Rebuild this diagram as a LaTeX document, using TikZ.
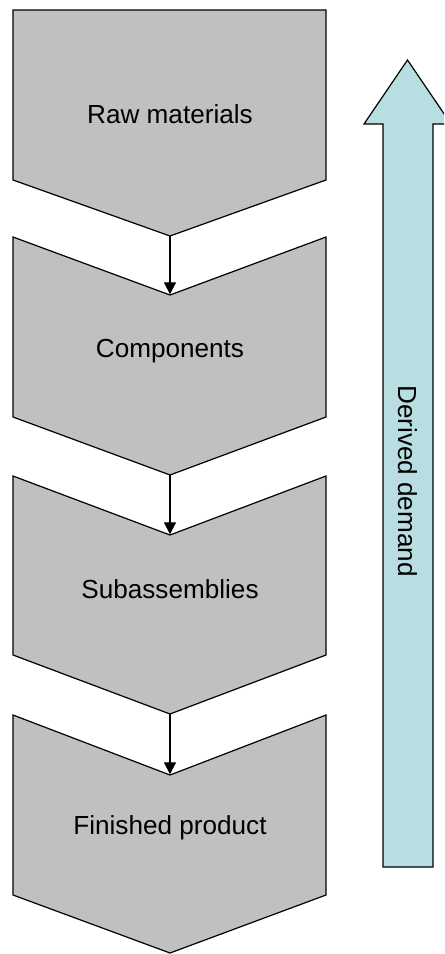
\documentclass[tikz,border=0pt]{standalone}
\usepackage{fontspec}
\setmainfont{Liberation Sans}
\usetikzlibrary{arrows.meta}
\definecolor{stagegray}{RGB}{192,192,192}
\definecolor{demandblue}{RGB}{184,222,225}
\tikzset{
  stage/.style={draw=black, line width=0.9pt, fill=stagegray, line join=miter},
  label/.style={font=\fontsize{19.6}{23}\selectfont, text=black, inner sep=0pt},
  flow/.style={draw=black, line width=0.9pt, -{Triangle[length=9pt,width=9pt]}, shorten >=0.5pt},
  demand/.style={draw=black, line width=0.9pt, fill=demandblue, line join=miter}
}
\begin{document}
\begin{tikzpicture}[x=0.75pt, y=-0.75pt]
  \useasboundingbox (0,0) rectangle (444,954);
  \clip (0,0) rectangle (444,954);

  % stage 1: flat top, pointed bottom
  \path[stage] (13,10) -- (326,10) -- (326,180) -- (170,236) -- (13,180) -- cycle;
  % stages 2-4: notched top, pointed bottom
  \path[stage] (13,237) -- (170,295) -- (326,237) -- (326,417) -- (170,475) -- (13,417) -- cycle;
  \path[stage] (13,476) -- (170,535) -- (326,476) -- (326,655) -- (170,714) -- (13,655) -- cycle;
  \path[stage] (13,715) -- (170,775) -- (326,715) -- (326,895) -- (170,953) -- (13,895) -- cycle;

  % tips and notches
  \coordinate (p1) at (170,236);
  \coordinate (n2) at (170,295);
  \coordinate (p2) at (170,475);
  \coordinate (n3) at (170,535);
  \coordinate (p3) at (170,714);
  \coordinate (n4) at (170,775);

  \node[label] (raw)  at (170,114) {Raw materials};
  \node[label] (comp) at (170,351) {Components};
  \node[label] (sub)  at (170,589) {Subassemblies};
  \node[label] (fin)  at (170,828) {Finished product};

  \draw[flow] (p1) -- (n2);
  \draw[flow] (p2) -- (n3);
  \draw[flow] (p3) -- (n4);

  % block arrow pointing upwards
  \path[demand] (383,867) -- (383,124) -- (364,124) -- (407.5,60) -- (451,124)
        -- (433,124) -- (433,867) -- cycle;
  \node[label, rotate=-90] (dd) at (408,481) {Derived demand};
\end{tikzpicture}
\end{document}
